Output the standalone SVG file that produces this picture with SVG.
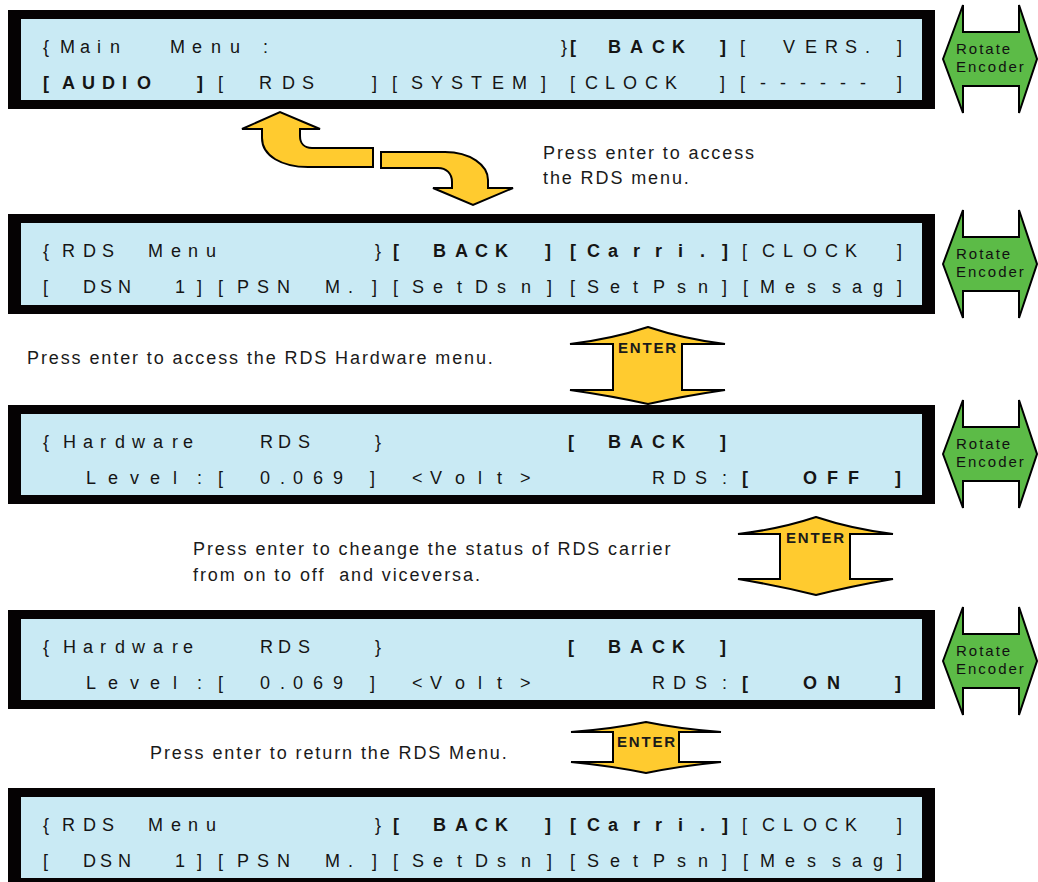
<svg xmlns="http://www.w3.org/2000/svg" width="1038" height="882" viewBox="0 0 1038 882">
<style>
.frame{fill:#050203}
.screen{fill:#C9EAF4}
.lcd{font-family:"Liberation Sans",Arial,sans-serif;font-size:18px;fill:#151515}
.b{font-weight:bold}
.note{font-family:"Liberation Sans",Arial,sans-serif;font-size:18px;fill:#1a1a1a;letter-spacing:1.9px;white-space:pre}
.enc{fill:#5CBB47;stroke:#000;stroke-width:2;stroke-linejoin:miter}
.enct{font-family:"Liberation Sans",Arial,sans-serif;font-size:15px;fill:#111;letter-spacing:2px}
.yel{fill:#FFCB2F;stroke:#000;stroke-width:2;stroke-linejoin:miter}
.ent{font-family:"Liberation Sans",Arial,sans-serif;font-size:15px;font-weight:bold;fill:#1a1a1a;letter-spacing:1.8px}
</style>
<rect width="1038" height="882" fill="#fff"/>

<g id="panel1">
<rect class="frame" x="8" y="10" width="927" height="99"/>
<rect class="screen" x="21" y="19" width="901" height="81"/>
<text class="lcd" y="53"><tspan x="43 60 80 97 110 140 170 192 211 230 263">{Main Menu:</tspan> <tspan x="561">}</tspan> <tspan class="b" x="570 590 608 630 652 672 700 720">[ BACK ]</tspan> <tspan x="740 760 783 805 825 845 865 897">[ VERS.]</tspan></text>
<text class="lcd" y="89"><tspan class="b" x="43 62 82 102 122 137 170 197">[AUDIO ]</tspan> <tspan x="218 238 259 282 302 340 372 392 411 431 451 471 492 512 541 570 585 605 623 645 665 700 720 740 760 780 800 820 840 860 897">[ RDS ][SYSTEM][CLOCK ][------]</tspan></text>
</g>

<g id="panel2">
<rect class="frame" x="8" y="214" width="927" height="100"/>
<rect class="screen" x="21" y="223" width="901" height="82"/>
<text class="lcd" y="257"><tspan x="43 62 83 102 125 148 171 188 206 300 375">{RDS Menu }</tspan> <tspan class="b" x="393 413 433 455 475 495 520 545 570 587 608 633 655 678 700 722">[ BACK ][Carri.]</tspan> <tspan x="742 762 783 803 825 845 870 897">[CLOCK ]</tspan></text>
<text class="lcd" y="293"><tspan x="43 63 83 100 118 150 175 197 218 237 257 277 300 325 348 372 393 412 433 457 475 497 521 547 570 587 610 633 653 677 698 722 743 760 785 807 832 852 873 897">[ DSN 1][PSN M.][SetDsn][SetPsn][Messag]</tspan></text>
</g>

<g id="panel3">
<rect class="frame" x="8" y="405" width="927" height="99"/>
<rect class="screen" x="21" y="414" width="901" height="81"/>
<text class="lcd" y="448"><tspan x="43 63 83 100 115 132 153 172 183 220 260 278 298 340 375">{Hardware RDS }</tspan> <tspan class="b" x="568 590 608 630 652 672 700 720">[ BACK ]</tspan></text>
<text class="lcd" y="484"><tspan x="86 108 130 150 173 197 218 240 260 280 293 313 333 370 390 412 430 455 478 497 520">Level:[ 0.069] &lt;Volt&gt;</tspan> <tspan x="652 673 695 722">RDS:</tspan><tspan class="b" x="742 770 803 827 848 870 895">[ OFF ]</tspan></text>
</g>

<g id="panel4">
<rect class="frame" x="8" y="610" width="927" height="99"/>
<rect class="screen" x="21" y="619" width="901" height="81"/>
<text class="lcd" y="653"><tspan x="43 63 83 100 115 132 153 172 183 220 260 278 298 340 375">{Hardware RDS }</tspan> <tspan class="b" x="568 590 608 630 652 672 700 720">[ BACK ]</tspan></text>
<text class="lcd" y="689"><tspan x="86 108 130 150 173 197 218 240 260 280 293 313 333 370 390 412 430 455 478 497 520">Level:[ 0.069] &lt;Volt&gt;</tspan> <tspan x="652 673 695 722">RDS:</tspan><tspan class="b" x="742 770 803 827 860 895">[ ON ]</tspan></text>
</g>

<g id="panel5">
<rect class="frame" x="8" y="788" width="927" height="99"/>
<rect class="screen" x="21" y="797" width="901" height="81"/>
<text class="lcd" y="831"><tspan x="43 62 83 102 125 148 171 188 206 300 375">{RDS Menu }</tspan> <tspan class="b" x="393 413 433 455 475 495 520 545 570 587 608 633 655 678 700 722">[ BACK ][Carri.]</tspan> <tspan x="742 762 783 803 825 845 870 897">[CLOCK ]</tspan></text>
<text class="lcd" y="867"><tspan x="43 63 83 100 118 150 175 197 218 237 257 277 300 325 348 372 393 412 433 457 475 497 521 547 570 587 610 633 653 677 698 722 743 760 785 807 832 852 873 897">[ DSN 1][PSN M.][SetDsn][SetPsn][Messag]</tspan></text>
</g>

<g id="encoder1">
<path class="enc" d="M943,59 L963,5 L963,32 L1019,32 L1019,5 L1037,59 L1019,113 L1019,86 L963,86 L963,113 Z"/>
<text class="enct" x="956" y="54">Rotate</text>
<text class="enct" x="956" y="72">Encoder</text>
</g>
<g id="encoder2">
<path class="enc" d="M943,264 L963,210 L963,237 L1019,237 L1019,210 L1037,264 L1019,318 L1019,291 L963,291 L963,318 Z"/>
<text class="enct" x="956" y="259">Rotate</text>
<text class="enct" x="956" y="277">Encoder</text>
</g>
<g id="encoder3">
<path class="enc" d="M943,454 L963,400 L963,427 L1019,427 L1019,400 L1037,454 L1019,508 L1019,481 L963,481 L963,508 Z"/>
<text class="enct" x="956" y="449">Rotate</text>
<text class="enct" x="956" y="467">Encoder</text>
</g>
<g id="encoder4">
<path class="enc" d="M943,661 L963,607 L963,634 L1019,634 L1019,607 L1037,661 L1019,715 L1019,688 L963,688 L963,715 Z"/>
<text class="enct" x="956" y="656">Rotate</text>
<text class="enct" x="956" y="674">Encoder</text>
</g>

<g id="notes">
<text class="note" x="543" y="159">Press enter to access</text>
<text class="note" x="543" y="184">the RDS menu.</text>
<text class="note" x="27" y="364">Press enter to access the RDS Hardware menu.</text>
<text class="note" x="193" y="555">Press enter to cheange the status of RDS carrier</text>
<text class="note" x="193" y="581" xml:space="preserve">from on to off  and viceversa.</text>
<text class="note" x="150" y="759">Press enter to return the RDS Menu.</text>
</g>

<g id="connectors">
<path class="yel" d="M373,148 L312,148 C304,148 300,143 300,136 L300,129 L320,129 L280,112 L242,129 L262,129 L262,138 C262,156 282,167 308,167 L373,167 Z"/>
<path class="yel" d="M381,152 L445,152 C470,152 488,165 488,180 L488,188 L513,188 L473,205 L433,188 L452,188 L452,182 C452,173 446,168 438,168 L381,168 Z"/>
<g id="enter1">
<path class="yel" d="M648,327 Q612,339 570,344 L613,344 L613,390 L570,390 Q612,396 648,404 Q684,396 725,390 L682,390 L682,344 L725,344 Q684,339 648,327 Z"/>
<text class="ent" x="618" y="353">ENTER</text>
</g>
<g id="enter2">
<path class="yel" d="M816,517 Q780,529 738,534 L780,534 L780,579 L738,579 Q780,586 816,595 Q852,586 893,579 L850,579 L850,534 L893,534 Q852,529 816,517 Z"/>
<text class="ent" x="786" y="543">ENTER</text>
</g>
<g id="enter3">
<path class="yel" d="M646,722 Q612,729 571,732 L613,732 L613,762 L571,762 Q612,766 646,773 Q680,766 721,762 L679,762 L679,732 L721,732 Q680,729 646,722 Z"/>
<text class="ent" x="617" y="747">ENTER</text>
</g>
</g>
</svg>
